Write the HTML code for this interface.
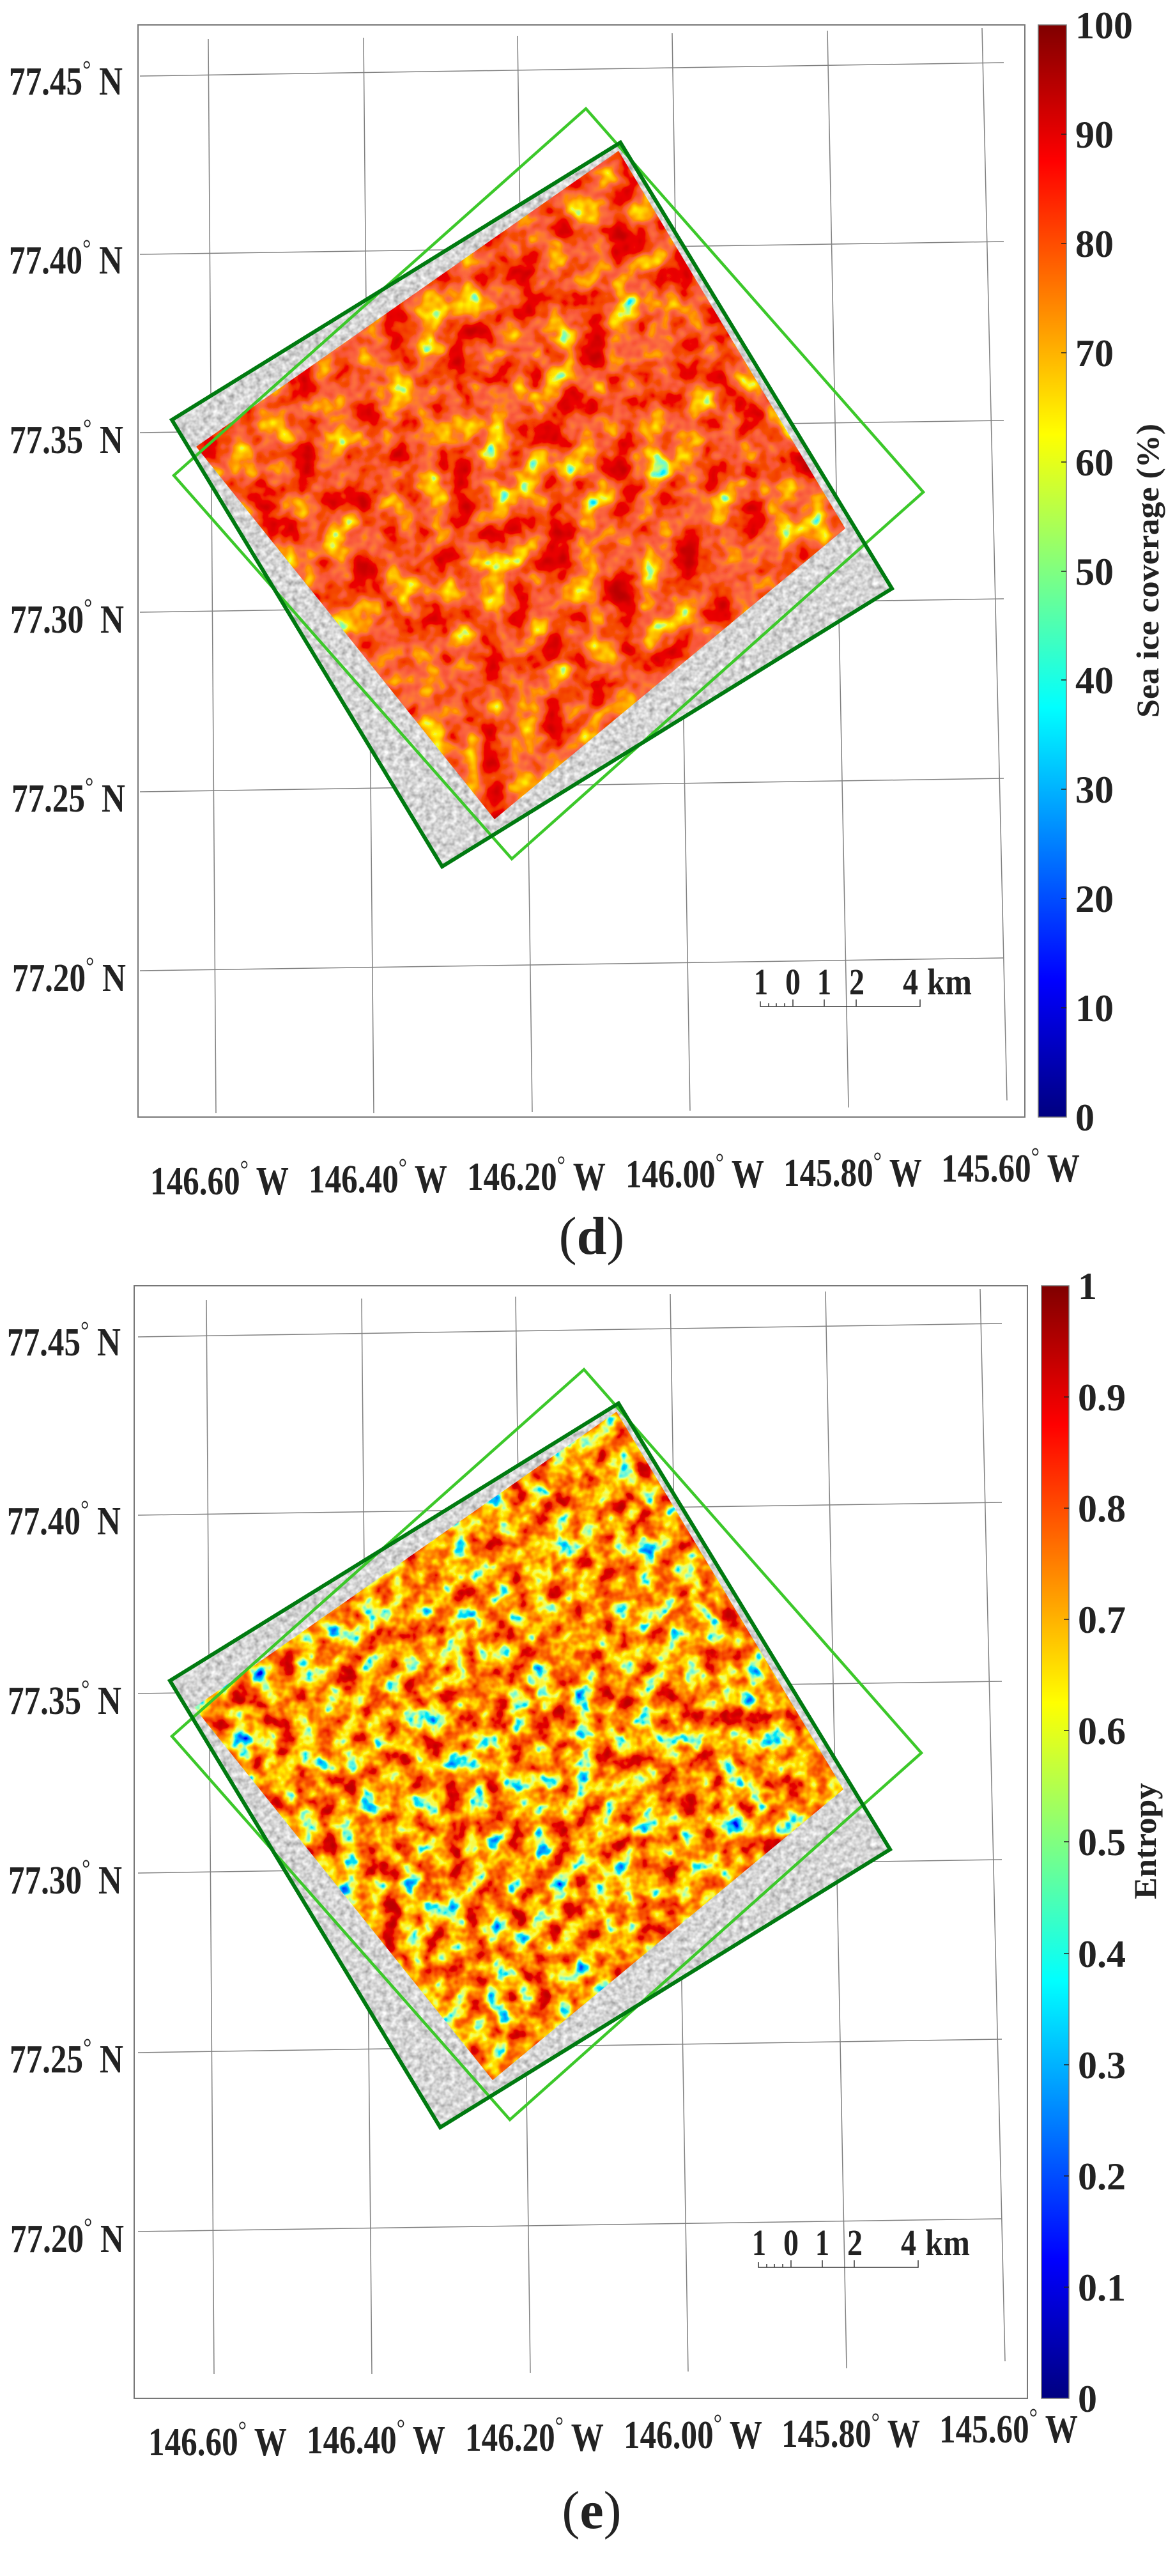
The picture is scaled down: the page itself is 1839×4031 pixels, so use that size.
<!DOCTYPE html>
<html><head><meta charset="utf-8"><style>
html,body{margin:0;padding:0;background:#fff;}
svg{display:block;}
text{font-family:"Liberation Serif",serif;fill:#222;}
</style></head><body>
<svg width="1839" height="4031" viewBox="0 0 1839 4031" xmlns="http://www.w3.org/2000/svg">
<defs>
<linearGradient id="jet" x1="0" y1="0" x2="0" y2="1">
<stop offset="0" stop-color="#800000"/>
<stop offset="0.125" stop-color="#ff0000"/>
<stop offset="0.375" stop-color="#ffff00"/>
<stop offset="0.5" stop-color="#80ff80"/>
<stop offset="0.625" stop-color="#00ffff"/>
<stop offset="0.875" stop-color="#0000ff"/>
<stop offset="1" stop-color="#000080"/>
</linearGradient>
<clipPath id="cq"><polygon points="307,699 968,236 1323,827 774,1282"/></clipPath>
<clipPath id="dq"><polygon points="269,657 971,223 1396,921 692,1356"/></clipPath>
<filter id="f1" x="0" y="0" width="100%" height="100%" filterUnits="userSpaceOnUse">
<feTurbulence type="fractalNoise" baseFrequency="0.02" numOctaves="3" seed="4"/>
<feColorMatrix type="matrix" values="1 0 0 0 0  1 0 0 0 0  1 0 0 0 0  0 0 0 0 1"/>
<feComponentTransfer>
<feFuncR type="table" tableValues="0 0 0 0 0.3 1 1 1 1 0.97 0.95 0.92 0.9 0.85 0.8 0.7 0.6 0.55 0.5 0.5 0.5"/>
<feFuncG type="table" tableValues="0 0.2 0.5 0.9 1 0.9 0.6 0.4 0.25 0.15 0.1 0.08 0.05 0 0 0 0 0 0 0 0"/>
<feFuncB type="table" tableValues="0.6 1 1 1 0.3 0 0 0 0 0.05 0.05 0 0 0 0 0 0 0 0 0 0"/>
</feComponentTransfer>
</filter>
<filter id="f2" x="0" y="0" width="100%" height="100%" filterUnits="userSpaceOnUse">
<feTurbulence type="fractalNoise" baseFrequency="0.03" numOctaves="3" seed="9"/>
<feColorMatrix type="matrix" values="1 0 0 0 0  1 0 0 0 0  1 0 0 0 0  0 0 0 0 1"/>
<feComponentTransfer>
<feFuncR type="table" tableValues="0 0 0 0 0 0 0.3 0.9 1 1 1 1 0.95 0.9 0.8 0.65 0.55 0.5 0.5 0.5 0.5"/>
<feFuncG type="table" tableValues="0 0 0 0.2 0.5 0.85 1 1 0.85 0.6 0.35 0.2 0.1 0.05 0 0 0 0 0 0 0"/>
<feFuncB type="table" tableValues="0.5 0.7 1 1 1 0.9 0.5 0.1 0 0 0 0 0 0 0 0 0 0 0 0 0"/>
</feComponentTransfer>
</filter>
<filter id="fg" x="0" y="0" width="100%" height="100%" filterUnits="userSpaceOnUse">
<feTurbulence type="fractalNoise" baseFrequency="0.12" numOctaves="2" seed="2"/>
<feColorMatrix type="matrix" values="0.9 0 0 0 0.22  0.9 0 0 0 0.22  0.9 0 0 0 0.22  0 0 0 0 1"/>
</filter>
<g id="grid" stroke="#808080" stroke-width="1.5" fill="none">
<line x1="219" y1="119" x2="1571" y2="98"/>
<line x1="219" y1="398" x2="1571" y2="378"/>
<line x1="219" y1="677" x2="1571" y2="658"/>
<line x1="219" y1="958" x2="1571" y2="937"/>
<line x1="219" y1="1239" x2="1571" y2="1218"/>
<line x1="219" y1="1519" x2="1571" y2="1499"/>
<line x1="326" y1="61" x2="338" y2="1742"/>
<line x1="569" y1="59" x2="585" y2="1742"/>
<line x1="810" y1="56" x2="833" y2="1740"/>
<line x1="1052" y1="52" x2="1080" y2="1738"/>
<line x1="1295" y1="48" x2="1328" y2="1733"/>
<line x1="1537" y1="44" x2="1576" y2="1722"/>
</g>
<g id="quads" fill="none" stroke-linejoin="miter">
<polygon points="272,744 917,170 1445,770 801,1344" stroke="#3cc82a" stroke-width="4.5"/>
<polygon points="269,657 971,223 1396,921 692,1356" stroke="#007a10" stroke-width="6"/>
</g>
<g id="labels" font-weight="bold" font-size="62">
<text x="14" y="148" textLength="178" lengthAdjust="spacingAndGlyphs">77.45<tspan font-size="40" font-weight="normal" dy="-26">°</tspan><tspan dy="26"> N</tspan></text>
<text x="14" y="428" textLength="178" lengthAdjust="spacingAndGlyphs">77.40<tspan font-size="40" font-weight="normal" dy="-26">°</tspan><tspan dy="26"> N</tspan></text>
<text x="15" y="709" textLength="178" lengthAdjust="spacingAndGlyphs">77.35<tspan font-size="40" font-weight="normal" dy="-26">°</tspan><tspan dy="26"> N</tspan></text>
<text x="16" y="990" textLength="178" lengthAdjust="spacingAndGlyphs">77.30<tspan font-size="40" font-weight="normal" dy="-26">°</tspan><tspan dy="26"> N</tspan></text>
<text x="18" y="1270" textLength="178" lengthAdjust="spacingAndGlyphs">77.25<tspan font-size="40" font-weight="normal" dy="-26">°</tspan><tspan dy="26"> N</tspan></text>
<text x="19" y="1551" textLength="178" lengthAdjust="spacingAndGlyphs">77.20<tspan font-size="40" font-weight="normal" dy="-26">°</tspan><tspan dy="26"> N</tspan></text>
<text x="235" y="1869" textLength="217" lengthAdjust="spacingAndGlyphs">146.60<tspan font-size="40" font-weight="normal" dy="-26">°</tspan><tspan dy="26"> W</tspan></text>
<text x="483" y="1866" textLength="217" lengthAdjust="spacingAndGlyphs">146.40<tspan font-size="40" font-weight="normal" dy="-26">°</tspan><tspan dy="26"> W</tspan></text>
<text x="731" y="1862" textLength="217" lengthAdjust="spacingAndGlyphs">146.20<tspan font-size="40" font-weight="normal" dy="-26">°</tspan><tspan dy="26"> W</tspan></text>
<text x="979" y="1858" textLength="217" lengthAdjust="spacingAndGlyphs">146.00<tspan font-size="40" font-weight="normal" dy="-26">°</tspan><tspan dy="26"> W</tspan></text>
<text x="1226" y="1856" textLength="217" lengthAdjust="spacingAndGlyphs">145.80<tspan font-size="40" font-weight="normal" dy="-26">°</tspan><tspan dy="26"> W</tspan></text>
<text x="1473" y="1849" textLength="217" lengthAdjust="spacingAndGlyphs">145.60<tspan font-size="40" font-weight="normal" dy="-26">°</tspan><tspan dy="26"> W</tspan></text>
</g>
<g id="scalebar">
<g font-weight="bold" font-size="58" fill="#000">
<text x="1180" y="1556" textLength="22" lengthAdjust="spacingAndGlyphs">1</text>
<text x="1229" y="1556" textLength="24" lengthAdjust="spacingAndGlyphs">0</text>
<text x="1279" y="1556" textLength="22" lengthAdjust="spacingAndGlyphs">1</text>
<text x="1329" y="1556" textLength="24" lengthAdjust="spacingAndGlyphs">2</text>
<text x="1413" y="1556" textLength="24" lengthAdjust="spacingAndGlyphs">4</text>
<text x="1451" y="1556" textLength="70" lengthAdjust="spacingAndGlyphs">km</text>
</g>
<g stroke="#333" stroke-width="1.5" fill="none">
<polyline points="1190,1567 1190,1575 1440,1575 1440,1564"/>
<line x1="1203" y1="1570" x2="1203" y2="1575"/>
<line x1="1215" y1="1570" x2="1215" y2="1575"/>
<line x1="1228" y1="1570" x2="1228" y2="1575"/>
<line x1="1241" y1="1564" x2="1241" y2="1575"/>
<line x1="1290" y1="1564" x2="1290" y2="1575"/>
<line x1="1340" y1="1564" x2="1340" y2="1575"/>
</g>
</g>
</defs>

<!-- PANEL D -->
<g>
<use href="#grid"/>
<g clip-path="url(#dq)"><rect x="269" y="223" width="1127" height="1133" filter="url(#fg)"/></g>
<g clip-path="url(#cq)"><rect x="300" y="230" width="1030" height="1060" filter="url(#f1)"/></g>
<use href="#quads"/>
<rect x="216" y="39" width="1388" height="1709" fill="none" stroke="#777" stroke-width="2"/>
<use href="#labels"/>
<use href="#scalebar"/>
<rect x="1625" y="39" width="44" height="1709" fill="url(#jet)" stroke="#777" stroke-width="1.5"/>
<g stroke="#222" stroke-width="1.5">
<line x1="1661" y1="210" x2="1669" y2="210"/><line x1="1661" y1="381" x2="1669" y2="381"/><line x1="1661" y1="552" x2="1669" y2="552"/><line x1="1661" y1="723" x2="1669" y2="723"/><line x1="1661" y1="894" x2="1669" y2="894"/><line x1="1661" y1="1064" x2="1669" y2="1064"/><line x1="1661" y1="1235" x2="1669" y2="1235"/><line x1="1661" y1="1406" x2="1669" y2="1406"/><line x1="1661" y1="1577" x2="1669" y2="1577"/>
</g>
<g font-weight="bold" font-size="60">
<text x="1683" y="60">100</text><text x="1683" y="231">90</text><text x="1683" y="402">80</text><text x="1683" y="573">70</text><text x="1683" y="744">60</text><text x="1683" y="915">50</text><text x="1683" y="1085">40</text><text x="1683" y="1256">30</text><text x="1683" y="1427">20</text><text x="1683" y="1598">10</text><text x="1683" y="1769">0</text>
</g>
<text transform="translate(1813,893) rotate(-90)" text-anchor="middle" font-weight="bold" font-size="50" textLength="460" lengthAdjust="spacingAndGlyphs">Sea ice coverage (%)</text>
<text x="926" y="1962" text-anchor="middle" font-size="84">(<tspan font-weight="bold">d</tspan>)</text>
</g>

<!-- PANEL E -->
<g transform="translate(-3,1973)">
<use href="#grid"/>
<g clip-path="url(#dq)"><rect x="269" y="223" width="1127" height="1133" filter="url(#fg)"/></g>
<g clip-path="url(#cq)"><rect x="300" y="230" width="1030" height="1060" filter="url(#f2)"/></g>
<use href="#quads"/>
<rect x="213" y="39" width="1398" height="1741" fill="none" stroke="#777" stroke-width="2"/>
<use href="#labels"/>
<use href="#scalebar"/>
<rect x="1633" y="39" width="43" height="1741" fill="url(#jet)" stroke="#777" stroke-width="1.5"/>
<g stroke="#222" stroke-width="1.5">
<line x1="1668" y1="213" x2="1676" y2="213"/><line x1="1668" y1="387" x2="1676" y2="387"/><line x1="1668" y1="561" x2="1676" y2="561"/><line x1="1668" y1="735" x2="1676" y2="735"/><line x1="1668" y1="909" x2="1676" y2="909"/><line x1="1668" y1="1084" x2="1676" y2="1084"/><line x1="1668" y1="1258" x2="1676" y2="1258"/><line x1="1668" y1="1432" x2="1676" y2="1432"/><line x1="1668" y1="1606" x2="1676" y2="1606"/>
</g>
<g font-weight="bold" font-size="60">
<text x="1690" y="60">1</text><text x="1690" y="234">0.9</text><text x="1690" y="408">0.8</text><text x="1690" y="582">0.7</text><text x="1690" y="756">0.6</text><text x="1690" y="930">0.5</text><text x="1690" y="1105">0.4</text><text x="1690" y="1279">0.3</text><text x="1690" y="1453">0.2</text><text x="1690" y="1627">0.1</text><text x="1690" y="1801">0</text>
</g>
<text transform="translate(1812,908) rotate(-90)" text-anchor="middle" font-weight="bold" font-size="50" textLength="182" lengthAdjust="spacingAndGlyphs">Entropy</text>
<text x="929" y="1983" text-anchor="middle" font-size="84">(<tspan font-weight="bold">e</tspan>)</text>
</g>
</svg>
</body></html>
